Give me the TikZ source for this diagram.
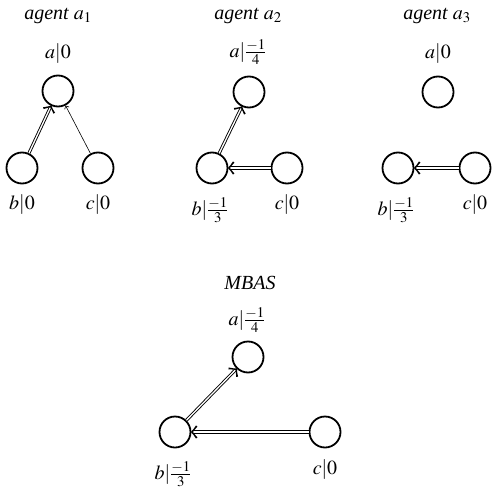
\documentclass[tikz,border=0pt]{standalone}
\usepackage{mathptmx}
\usepackage[no-math]{fontspec}
\setmainfont{Liberation Serif}
\usetikzlibrary{arrows.meta,decorations.markings}
\begin{document}
\begin{tikzpicture}[x=1pt,y=-1pt,
  st/.style={circle,draw,line width=1.8pt,minimum size=31pt,inner sep=0pt},
  lab/.style={font=\fontsize{20}{24}\selectfont},
  ttl/.style={font=\fontsize{20}{24}\selectfont\itshape},
  dbl/.style={draw,double,double distance=1.3pt,line width=0.9pt,shorten >=1.5pt},
  tip/.style={decorate,decoration={markings,mark=at position 1 with
    {\fill[black] (0.6pt,0pt) .. controls (-1.5pt,2pt) .. (-4.6pt,6.6pt) -- (-6pt,5.4pt) .. controls (-3pt,2pt) .. (-1.6pt,0pt) .. controls (-3pt,-2pt) .. (-6pt,-5.4pt) -- (-4.6pt,-6.6pt) .. controls (-1.5pt,-2pt) .. (0.6pt,0pt) -- cycle;}}},
  sgl/.style={line width=0.6pt,-{Straight Barb[length=2.5pt,width=5pt]}}]
\useasboundingbox (0,0) rectangle (491,494);
% agent 1
\node[ttl] (t1) at (58,16) {agent $a_1$};
\node[st] (a1) at (58,91) {};
\node[st] (b1) at (22,168) {};
\node[st] (c1) at (98,168) {};
\node[lab] (la1) at (58,54) {$a|0$};
\node[lab] (lb1) at (22,205) {$b|0$};
\node[lab] (lc1) at (98,205) {$c|0$};
\path[dbl] (b1) -- (a1);
\path[tip] (b1) -- (a1);
\draw[sgl] (c1) -- (a1);
% agent 2
\node[ttl] (t2) at (248,16) {agent $a_2$};
\node[st] (a2) at (249,92) {};
\node[st] (b2) at (212,168) {};
\node[st] (c2) at (287,168) {};
\node[lab] (la2) at (248,52) {$a|\frac{-1}{4}$};
\node[lab] (lb2) at (210,210) {$b|\frac{-1}{3}$};
\node[lab] (lc2) at (287,205) {$c|0$};
\path[dbl] (b2) -- (a2);
\path[tip] (b2) -- (a2);
\path[dbl] (c2) -- (b2);
\path[tip] (c2) -- (b2);
% agent 3
\node[ttl] (t3) at (437,16) {agent $a_3$};
\node[st] (a3) at (438,92) {};
\node[st] (b3) at (398,168) {};
\node[st] (c3) at (475,168) {};
\node[lab] (la3) at (438,54) {$a|0$};
\node[lab] (lb3) at (396,210) {$b|\frac{-1}{3}$};
\node[lab] (lc3) at (475,205) {$c|0$};
\path[dbl] (c3) -- (b3);
\path[tip] (c3) -- (b3);
% MBAS
\node[ttl] (t4) at (250,283) {MBAS};
\node[st] (a4) at (248,357) {};
\node[st] (b4) at (175,432) {};
\node[st] (c4) at (325,432) {};
\node[lab] (la4) at (247,320) {$a|\frac{-1}{4}$};
\node[lab] (lb4) at (173,474) {$b|\frac{-1}{3}$};
\node[lab] (lc4) at (325,470) {$c|0$};
\path[dbl] (b4) -- (a4);
\path[tip] (b4) -- (a4);
\path[dbl] (c4) -- (b4);
\path[tip] (c4) -- (b4);
\end{tikzpicture}
\end{document}
